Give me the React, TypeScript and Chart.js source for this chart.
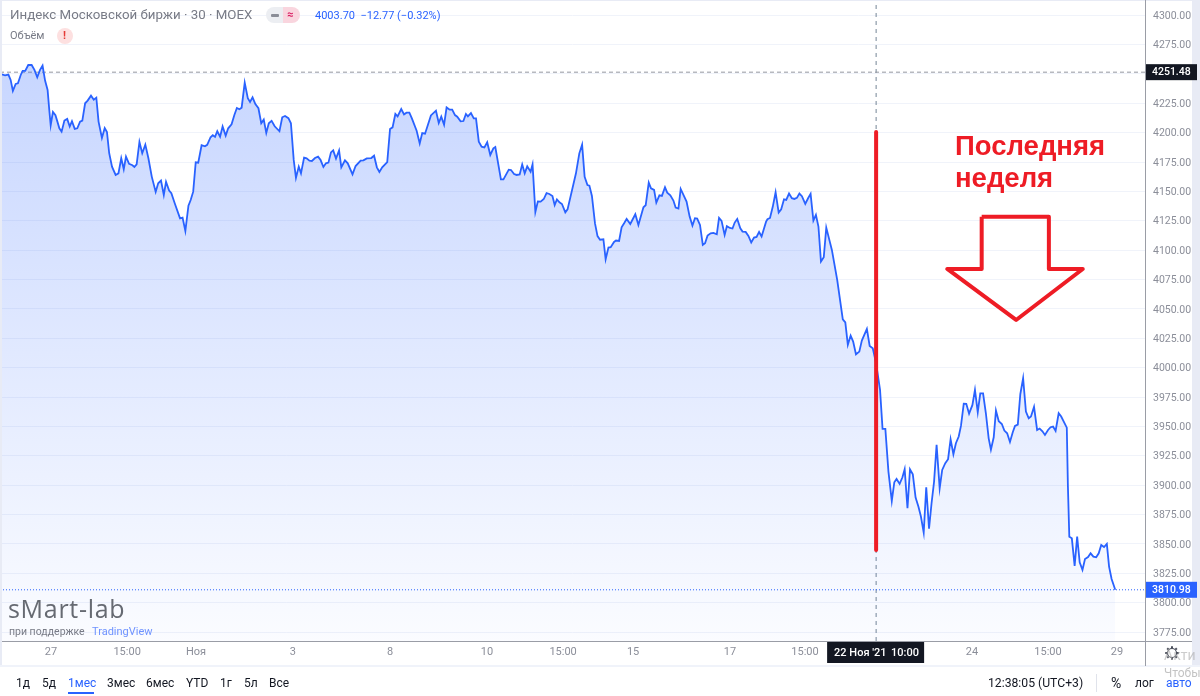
import React, { useEffect, useRef } from "react";
import { Chart, registerables } from "chart.js";

Chart.register(...registerables);

const barIndex = [
  0, 1.8, 3.0, 3.8, 4.6, 5.6, 6.4, 7.4, 8.1, 9.0, 10.1, 11.3, 12.3, 13.3, 14.3, 15.2, 16.1, 17.0, 17.6, 18.1,
  18.9, 19.8, 20.5, 21.2, 22.0, 23.0, 24.0, 24.9, 25.7, 26.7, 27.6, 28.6, 29.4, 30.4, 31.3, 32.5, 33.5, 34.4, 35.2, 36.4,
  37.4, 38.2, 39.0, 40.0, 41.3, 42.3, 43.3, 44.2, 45.0, 46.1, 47.3, 48.0, 48.8, 49.8, 50.8, 51.9, 53.0, 54.2, 55.6, 56.5,
  57.5, 58.5, 59.3, 60.4, 61.2, 62.4, 64.3, 65.2, 66.2, 67.3, 68.1, 69.0, 69.9, 70.8, 72.0, 73.2, 74.0, 75.2, 76.0, 76.8,
  77.6, 78.6, 79.5, 80.6, 81.5, 82.7, 83.7, 84.6, 85.5, 86.3, 87.4, 88.5, 89.3, 90.2, 91.2, 92.3, 93.3, 94.2, 95.1, 96.0,
  97.0, 98.1, 99.8, 100.8, 101.8, 103.0, 103.9, 104.9, 105.7, 106.7,
  107.5, 108.6, 109.5, 110.5, 111.4, 112.5, 113.6, 114.5, 115.5, 116.4, 117.3, 118.2, 119.0, 120.0, 121.1, 121.9, 123.2, 124.2, 125.9, 127.0,
  128.8, 129.8, 131.0, 132.6, 133.6, 134.6, 135.5, 136.5, 138.3, 139.3, 140.2, 141.2, 142.0, 143.3, 144.3, 145.2, 146.2, 147.1, 148.8, 149.9,
  150.8, 151.8, 153.9, 155.7, 156.7, 157.6, 158.6, 159.5, 160.6, 161.5, 162.5, 163.3, 164.5, 165.5, 166.4, 167.1, 168.2, 169.2, 170.0, 171.0,
  172.0, 173.0, 174.0, 175.1, 176.2, 176.9, 178.9, 179.8, 181.7, 182.5, 183.6, 184.5, 185.6, 186.5, 187.4, 188.3, 189.5, 190.2, 191.2, 192.1,
  193.1, 194.2, 195.2, 196.2, 197.3, 198.1, 198.9, 199.8, 200.7, 201.9, 202.7, 205.7, 206.9, 207.9, 208.8, 209.8, 210.5, 211.4, 212.5, 213.4, 214.3,
  215.5, 216.3, 217.3, 218.1, 219.3, 220.0, 221.1, 222.0, 222.9, 223.8, 225.1, 226.9, 228.0, 229.8, 230.6, 231.7, 232.5, 233.6, 234.4, 235.5,
  236.4, 237.5, 238.3, 239.4, 240.5, 241.3, 242.3, 243.1, 245.2, 246.3, 247.3, 248.2, 249.0, 250.0, 251.0, 251.8, 252.7, 253.8, 254.8, 256.0,
  256.8, 257.7, 258.8, 259.6, 260.7, 261.6, 262.4, 263.3, 264.4, 265.2, 266.3, 267.3, 268.3, 269.3, 270.2, 271.1, 272.0, 273.6, 274.1, 275.0,
  276.0, 277.0, 278.1, 279.0, 280.0, 280.8, 281.8, 282.8, 283.7, 284.6, 285.5, 286.4, 287.6, 288.6, 289.5, 290.5, 291.4, 292.3, 293.2, 294.2,
  295.1, 297.1, 299.0, 301.0, 301.9, 302.8, 303.8, 304.7, 305.7, 306.9, 307.8, 309.6, 310.6, 311.7, 312.9,
  314.3, 315.2, 316.2, 317.3, 318.5, 319.4, 320.2, 321.3, 322.3, 323.1, 324.1, 325.0, 326.0, 327.0, 328.0, 328.9, 329.9, 330.8, 331.8, 332.7,
  333.6, 334.5, 335.6, 336.5, 337.6, 338.6, 339.5, 340.5, 341.4, 342.4, 343.2, 344.2, 345.1, 346.1, 347.3, 348.2, 349.2, 350.1, 351.1, 352.1,
  353.1, 353.9, 354.9, 355.7, 356.7, 357.8, 358.7, 359.7, 360.7, 361.7, 362.5, 363.5, 364.4, 365.4, 366.4, 367.4, 368.2, 369.3, 370.4, 371.3,
  372.3, 373.2, 374.3, 375.2, 376.1, 377.0, 378.1, 379.0, 381.0, 381.4, 381.9, 382.8, 383.8, 384.7, 385.6, 386.6, 387.5, 388.6, 389.5, 390.5,
  391.5, 392.4, 393.3, 394.3, 395.3, 396.1, 397.0, 398.3,
];

const closeValues = [
  4250.0, 4248.8, 4249.4, 4244.9, 4235.5, 4241.5, 4242.0, 4249.1, 4252.5, 4252.5, 4257.6, 4257.6, 4253.4, 4247.1, 4253.4, 4257.1, 4244.3, 4236.4, 4219.3, 4206.3,
  4217.6, 4214.8, 4209.4, 4203.7, 4200.9, 4210.3, 4211.7, 4205.2, 4209.7, 4203.2, 4203.7, 4209.4, 4210.3, 4225.0, 4227.3, 4231.5, 4228.1, 4229.8, 4209.4, 4195.5,
  4204.0, 4200.6, 4182.5, 4171.1, 4164.0, 4165.4, 4178.2, 4168.9, 4179.6, 4173.4, 4172.3, 4170.8, 4173.1, 4192.1, 4182.5, 4189.8, 4178.2, 4162.6, 4149.6, 4156.9,
  4159.2, 4147.0, 4158.1, 4150.7, 4148.4, 4139.9, 4127.1, 4127.7, 4116.4, 4137.9, 4142.7, 4149.8, 4174.8, 4174.5, 4189.3, 4188.4, 4189.6, 4196.1, 4197.8, 4196.4,
  4201.2, 4196.6, 4205.2, 4197.5, 4203.7, 4207.1, 4215.1, 4221.0, 4219.9, 4221.3, 4242.6, 4229.3, 4226.2, 4230.1, 4224.4, 4220.8, 4208.0, 4211.1, 4199.8, 4208.0,
  4210.0, 4205.4, 4201.2, 4213.1, 4214.2, 4212.3, 4208.0, 4176.8, 4161.5, 4171.1,
  4165.4, 4178.7, 4178.1, 4176.2, 4175.9, 4178.4, 4179.6, 4176.7, 4170.8, 4173.9, 4174.5, 4183.2, 4184.9, 4177.9, 4184.9, 4170.5, 4176.4, 4173.9, 4164.5, 4171.6,
  4176.2, 4176.4, 4178.1, 4178.4, 4180.4, 4170.5, 4166.5, 4170.5, 4175.0, 4203.1, 4204.5, 4215.9, 4213.9, 4220.1, 4215.6, 4217.0, 4217.0, 4212.2, 4201.7, 4190.9,
  4199.7, 4199.1, 4214.7, 4218.7, 4208.2, 4213.6, 4206.8, 4221.5, 4219.6, 4219.6, 4215.0, 4213.6, 4209.6, 4209.9, 4215.9, 4213.9, 4216.7, 4212.2, 4212.2, 4192.3,
  4188.1, 4187.5, 4191.8, 4181.0, 4186.7, 4187.8, 4160.3, 4160.3, 4168.5, 4168.2, 4164.8, 4164.0, 4164.5, 4173.0, 4165.4, 4171.3, 4166.8, 4173.0, 4132.5, 4141.5,
  4141.3, 4143.5, 4148.6, 4147.8, 4146.1, 4138.4, 4143.2, 4140.7, 4139.3, 4132.2, 4134.7, 4165.4, 4182.4, 4189.8, 4162.5, 4155.4, 4154.9, 4146.1, 4122.8, 4112.0, 4108.9,
  4109.3, 4092.3, 4102.2, 4102.5, 4107.0, 4108.2, 4107.9, 4119.5, 4122.9, 4126.6, 4122.3, 4130.6, 4121.5, 4136.5, 4138.2, 4157.5, 4152.7, 4151.3, 4140.5, 4146.7,
  4146.2, 4153.5, 4149.0, 4146.7, 4142.2, 4136.2, 4135.4, 4152.1, 4141.3, 4128.6, 4120.9, 4127.2, 4126.9, 4121.5, 4104.5, 4105.9, 4112.4, 4114.4, 4114.7, 4113.5,
  4127.4, 4124.9, 4113.0, 4120.4, 4118.9, 4118.4, 4123.5, 4126.6, 4118.6, 4115.8, 4115.5, 4112.1, 4106.5, 4110.7, 4111.3, 4115.5, 4111.6, 4124.3, 4126.3, 4127.4,
  4137.1, 4149.3, 4132.0, 4134.8, 4143.3, 4142.8, 4148.2, 4144.2, 4143.6, 4144.5, 4148.2, 4145.9, 4139.4, 4144.2, 4147.9, 4125.2, 4130.0, 4120.1, 4090.3, 4094.0,
  4119.2, 4100.2, 4074.7, 4041.2, 4038.6, 4019.4, 4027.3, 4022.2, 4011.4, 4013.7, 4023.0, 4033.0, 4018.5, 4016.5, 4003.7,
  3981.1, 3947.9, 3947.9, 3911.6, 3886.6, 3902.5, 3905.3, 3901.1, 3906.7, 3913.5, 3880.4, 3913.5, 3909.3, 3889.4, 3881.8, 3873.3, 3859.6, 3898.2, 3863.0, 3884.6,
  3903.1, 3934.3, 3897.4, 3913.0, 3918.7, 3922.1, 3939.1, 3926.3, 3935.7, 3941.4, 3950.4, 3969.4, 3969.2, 3960.9, 3968.3, 3981.1, 3962.1, 3978.2, 3978.2, 3961.2,
  3939.9, 3930.3, 3940.8, 3963.5, 3954.4, 3952.1, 3946.5, 3944.2, 3936.8, 3945.0, 3950.4, 3951.6, 3977.4, 3991.0, 3962.6, 3956.9, 3958.4, 3966.6, 3947.0, 3948.2,
  3945.9, 3942.8, 3947.0, 3949.3, 3949.9, 3946.2, 3961.2, 3958.4, 3949.0, 3898.8, 3856.2, 3854.8, 3831.3, 3856.2, 3834.4, 3827.9, 3837.2, 3838.9, 3842.0, 3839.2,
  3838.6, 3842.0, 3849.1, 3847.4, 3850.0, 3830.7, 3820.2, 3810.98,
];

const priceTicks = [3775, 3800, 3825, 3850, 3875, 3900, 3925, 3950, 3975, 4000, 4025, 4050, 4075, 4100, 4125, 4150, 4175, 4200, 4225, 4250, 4275, 4300];
const timeTickBars = [18.2, 45.4, 70, 104.6, 139.3, 173.9, 201.1, 226.1, 260.7, 287.5, 347.1, 374.3, 398.9];
const timeTickLabels = ["27", "15:00", "Ноя", "3", "8", "10", "15:00", "15", "17", "15:00", "24", "15:00", "29"];

const yMin = 3767.4;
const yMax = 4312.9;
const xMin = 0;
const xMax = 408.93;

const prevClose = 4251.48;
const lastClose = 3810.98;
const crosshairBar = 312.9;
const crosshairLabelDate = "22 Ноя '21";
const crosshairLabelTime = "10:00";

const markerBars = [312.9, 312.9];
const markerValues = [4200.5, 3844.8];
const arrowBars = [350.6, 374.6, 374.6, 386.7, 362.9, 338.3, 350.6, 350.6];
const arrowValues = [4128.5, 4128.5, 4084.0, 4084.0, 4040.6, 4084.0, 4084.0, 4128.5];

const rangeButtons = [
  ["1д", 16], ["5д", 42], ["1мес", 68], ["3мес", 107], ["6мес", 146], ["YTD", 186], ["1г", 220], ["5л", 244], ["Все", 269],
] as const;

const FONT = "Roboto, 'Noto Sans', sans-serif";
const BLUE = "#2962ff";
const RED = "#ee1c25";

function pairs(xs: number[], ys: number[]) {
  return xs.map((x, i) => ({ x, y: ys[i] }));
}

function noPadding(axis: any) {
  axis.paddingLeft = 0;
  axis.paddingRight = 0;
  axis.paddingTop = 0;
  axis.paddingBottom = 0;
}

const overlayPlugin = {
  id: "overlay",
  beforeDraw(chart: any) {
    const c = chart.ctx;
    c.save();
    c.fillStyle = "#ffffff";
    c.fillRect(0, 0, chart.width, chart.height);
    c.restore();
  },
  afterDraw(chart: any) {
    const c = chart.ctx;
    const yS = chart.scales.y;
    const xS = chart.scales.x;
    const axisX = chart.chartArea.right;
    const axisY = chart.chartArea.bottom;
    c.save();
    // frame strips
    c.fillStyle = "#e8ebf5";
    c.fillRect(0, 0, 2, 666);
    c.fillRect(0, 0, 1200, 1);
    c.fillRect(1192, 0, 8, 666);
    c.fillStyle = "#f0f3fa";
    c.fillRect(0, 665, 1200, 2);
    // axes
    c.fillStyle = "#9a9da6";
    c.fillRect(2, Math.round(axisY), 1190, 1);
    c.fillRect(Math.round(axisX), 0, 1, 666);
    // price labels
    c.textBaseline = "middle";
    c.textAlign = "left";
    c.font = `500 10.5px ${FONT}`;
    const tag = (value: number, bg: string) => {
      const py = yS.getPixelForValue(value);
      c.fillStyle = bg;
      c.fillRect(axisX + 1, py - 8, 51, 16);
      c.fillStyle = "#ffffff";
      c.fillText(value.toFixed(2), axisX + 7, py + 0.5);
    };
    tag(prevClose, "#131722");
    tag(lastClose, BLUE);
    // crosshair time label
    const px = xS.getPixelForValue(crosshairBar);
    c.fillStyle = "#131722";
    c.fillRect(px - 49, axisY + 1, 97, 21);
    c.fillStyle = "#ffffff";
    c.textAlign = "left";
    c.font = `500 11px ${FONT}`;
    c.fillText(crosshairLabelDate, px - 42, axisY + 12);
    c.fillText(crosshairLabelTime, px + 15, axisY + 12);
    // gear icon
    const gx = 1172;
    const gy = 653;
    c.strokeStyle = "#4a4e5a";
    c.lineWidth = 1.2;
    c.beginPath();
    c.arc(gx, gy, 4.5, 0, Math.PI * 2);
    c.stroke();
    c.lineWidth = 2;
    for (let i = 0; i < 8; i++) {
      const a = (i * Math.PI) / 4;
      c.beginPath();
      c.moveTo(gx + Math.cos(a) * 4.8, gy + Math.sin(a) * 4.8);
      c.lineTo(gx + Math.cos(a) * 6.8, gy + Math.sin(a) * 6.8);
      c.stroke();
    }
    c.restore();
  },
};

function Label(props: { x: number; cy: number; size: number; color: string; weight?: number; family?: string; spacing?: number; children: React.ReactNode }) {
  return (
    <div
      style={{
        position: "absolute",
        left: props.x,
        top: props.cy - 20,
        height: 40,
        lineHeight: "40px",
        fontSize: props.size,
        color: props.color,
        fontWeight: props.weight ?? 400,
        fontFamily: props.family ?? FONT,
        letterSpacing: props.spacing ?? 0,
        whiteSpace: "pre",
      }}
    >
      {props.children}
    </div>
  );
}

export default function App() {
  const ref = useRef<HTMLCanvasElement>(null);

  useEffect(() => {
    document.body.style.margin = "0";
    const chart = new Chart(ref.current as HTMLCanvasElement, {
      type: "line",
      plugins: [overlayPlugin],
      data: {
        datasets: [
          {
            label: "Маркер",
            data: pairs(markerBars, markerValues),
            borderColor: RED,
            borderWidth: 4,
            pointRadius: 0,
            fill: false,
            order: 0,
            borderCapStyle: "round",
          },
          {
            label: "Стрелка",
            data: pairs(arrowBars, arrowValues),
            borderColor: RED,
            borderWidth: 4,
            pointRadius: 0,
            fill: false,
            order: 0,
            borderJoinStyle: "round",
          },
          {
            label: "Индекс МосБиржи",
            data: pairs(barIndex, closeValues),
            borderColor: BLUE,
            borderWidth: 1.8,
            pointRadius: 0,
            tension: 0,
            fill: "start",
            order: 1,
            backgroundColor: (ctx: any) => {
              const ch = ctx.chart;
              if (!ch.chartArea) return "rgba(41,98,255,0.2)";
              const g = ch.ctx.createLinearGradient(0, 68, 0, ch.chartArea.bottom);
              g.addColorStop(0, "rgba(41,98,255,0.26)");
              g.addColorStop(1, "rgba(41,98,255,0.02)");
              return g;
            },
          },
          {
            label: "Предыдущее закрытие",
            data: pairs([xMin, xMax], [prevClose, prevClose]),
            borderColor: "#9598a1",
            borderWidth: 1,
            borderDash: [4, 3],
            pointRadius: 0,
            fill: false,
            order: 2,
          },
          {
            label: "Последняя цена",
            data: pairs([xMin, xMax], [lastClose, lastClose]),
            borderColor: BLUE,
            borderWidth: 1,
            borderDash: [1, 2],
            pointRadius: 0,
            fill: false,
            order: 2,
          },
          {
            label: "Перекрестие",
            data: pairs([crosshairBar, crosshairBar], [yMin, yMax]),
            borderColor: "#758696",
            borderWidth: 1,
            borderDash: [4, 4],
            pointRadius: 0,
            fill: false,
            order: 2,
          },
        ],
      },
      options: {
        responsive: false,
        animation: false,
        events: [],
        layout: { padding: 0 },
        plugins: { legend: { display: false }, tooltip: { enabled: false } },
        scales: {
          x: {
            type: "linear",
            min: xMin,
            max: xMax,
            afterFit: (axis: any) => {
              axis.height = 55;
              noPadding(axis);
            },
            afterBuildTicks: (axis: any) => {
              axis.ticks = timeTickBars.map((value) => ({ value }));
            },
            grid: { display: false, drawTicks: false },
            border: { display: false },
            ticks: {
              autoSkip: false,
              maxRotation: 0,
              padding: 5,
              color: "#8b8e99",
              font: { family: FONT, size: 11 },
              callback: (_v: any, i: number) => timeTickLabels[i],
            },
          },
          y: {
            type: "linear",
            position: "right",
            min: yMin,
            max: yMax,
            afterFit: (axis: any) => {
              axis.width = 55;
              noPadding(axis);
            },
            afterBuildTicks: (axis: any) => {
              axis.ticks = priceTicks.map((value) => ({ value }));
            },
            grid: { color: "#f0f3fa", lineWidth: 1, drawTicks: false },
            border: { display: false },
            ticks: {
              autoSkip: false,
              padding: 8,
              crossAlign: "near",
              labelOffset: 1,
              color: "#8b8e99",
              font: { family: FONT, size: 10.5 },
              callback: (v: any) => Number(v).toFixed(2),
            },
          },
        },
      },
    } as any);
    return () => chart.destroy();
  }, []);

  return (
    <div style={{ position: "fixed", left: 0, top: 0, width: 1200, height: 696, overflow: "hidden", background: "#fff" }}>
      <canvas ref={ref} width={1200} height={696} style={{ position: "absolute", left: 0, top: 0, width: 1200, height: 696 }} />

      <Label x={10} cy={15} size={13.3} color="#787b86">Индекс Московской биржи · 30 · MOEX</Label>
      <div style={{ position: "absolute", left: 266, top: 7, width: 17, height: 16, background: "#eceef2", borderRadius: "8px 0 0 8px" }} />
      <div style={{ position: "absolute", left: 271, top: 14, width: 8, height: 2.5, background: "#8a8d97", borderRadius: 1 }} />
      <div style={{ position: "absolute", left: 283, top: 7, width: 17, height: 16, background: "#f9d5de", borderRadius: "0 8px 8px 0" }} />
      <Label x={287} cy={15} size={11} color="#d81b60" weight={700}>≈</Label>
      <Label x={315} cy={16} size={11} color={BLUE}>{"4003.70  −12.77 (−0.32%)"}</Label>

      <Label x={10} cy={36} size={11} color="#787b86">Объём</Label>
      <div style={{ position: "absolute", left: 57, top: 28, width: 16, height: 16, background: "#fde0e0", borderRadius: 8 }} />
      <Label x={63} cy={36} size={11} color="#e53935" weight={700}>!</Label>

      <Label x={955} cy={146} size={27.5} color={RED} weight={700} family="'Liberation Sans', Arial, sans-serif">Последняя</Label>
      <Label x={955} cy={178} size={27.5} color={RED} weight={700} family="'Liberation Sans', Arial, sans-serif">неделя</Label>

      <Label x={8} cy={608} size={25} color="#666a72" family="'Open Sans', sans-serif" spacing={0.7}>sMart-lab</Label>
      <Label x={9} cy={632} size={10.5} color="#787b86">при поддержке</Label>
      <Label x={92} cy={632} size={11} color="#6f93ff">TradingView</Label>

      {rangeButtons.map(([text, x]) => (
        <Label key={text} x={x} cy={683} size={12} color={text === "1мес" ? BLUE : "#131722"}>{text}</Label>
      ))}
      <div style={{ position: "absolute", left: 68, top: 692, width: 26, height: 2, background: BLUE }} />

      <Label x={988} cy={683} size={12.2} color="#131722">12:38:05 (UTC+3)</Label>
      <div style={{ position: "absolute", left: 1096, top: 674, width: 1, height: 18, background: "#e0e3eb" }} />
      <Label x={1111} cy={683} size={14} color="#131722">%</Label>
      <Label x={1135} cy={683} size={12} color="#131722">лог</Label>
      <Label x={1166} cy={683} size={12} color={BLUE}>авто</Label>

      <Label x={1164} cy={655} size={14} color="rgba(170,170,170,0.6)">Акти</Label>
      <Label x={1164} cy={673} size={12} color="rgba(170,170,170,0.7)">Чтобы</Label>
    </div>
  );
}
